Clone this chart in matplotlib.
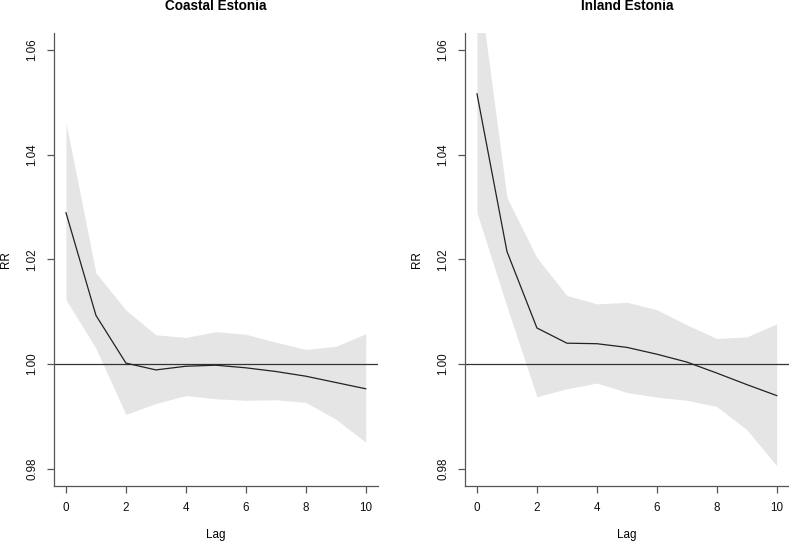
"""
Lag-response curves (RR by lag) for coastal and inland Estonia.
Saves out.png.
"""

import matplotlib.pyplot as plt
import matplotlib as mpl

mpl.rcParams["font.family"] = ["Liberation Sans", "DejaVu Sans"]

lags = [0, 1, 2, 3, 4, 5, 6, 7, 8, 9, 10]

coastal_rr = [1.0289, 1.0093, 1.0002, 0.9989, 0.9996, 0.9998, 0.9993, 0.9986, 0.9977, 0.9965, 0.9953]
coastal_hi = [1.0461, 1.0174, 1.0103, 1.0056, 1.0051, 1.0062, 1.0057, 1.0042, 1.0028, 1.0034, 1.0058]
coastal_lo = [1.0123, 1.0030, 0.9904, 0.9925, 0.9940, 0.9934, 0.9931, 0.9932, 0.9927, 0.9895, 0.9851]

inland_rr = [1.0516, 1.0215, 1.0069, 1.0040, 1.0039, 1.0032, 1.0019, 1.0004, 0.9983, 0.9961, 0.9940]
inland_hi = [1.0750, 1.0318, 1.0203, 1.0131, 1.0115, 1.0118, 1.0104, 1.0075, 1.0049, 1.0052, 1.0077]
inland_lo = [1.0289, 1.0110, 0.9938, 0.9953, 0.9964, 0.9946, 0.9937, 0.9931, 0.9919, 0.9875, 0.9806]

panels = [
    ("Coastal Estonia", coastal_rr, coastal_lo, coastal_hi),
    ("Inland Estonia", inland_rr, inland_lo, inland_hi),
]

W, H = 789, 542
fig = plt.figure(figsize=(W / 100, H / 100), dpi=100)

ax_w, ax_h = 323.7, 452.7
ax_bottom = H - 485.7
lefts = [54, 465]

axis_col = "#555555"
fs = 8.4

for left, (title, rr, lo, hi) in zip(lefts, panels):
    ax = fig.add_axes([left / W, ax_bottom / H, ax_w / W, ax_h / H])
    ax.fill_between(lags, lo, hi, color="#e5e5e5", linewidth=0)
    ax.axhline(1.0, color="#333333", lw=0.9)
    ax.plot(lags, rr, color="#222222", lw=0.9)

    # R-style 4% padding around xlim (0,10), ylim (0.98,1.06)
    ax.set_xlim(-0.4, 10.4)
    ax.set_ylim(0.9768, 1.0632)

    ax.set_xticks([0, 2, 4, 6, 8, 10])
    ax.set_yticks([0.98, 1.00, 1.02, 1.04, 1.06])
    ax.set_yticklabels(["0.98", "1.00", "1.02", "1.04", "1.06"])
    for lbl in ax.get_yticklabels():
        lbl.set_rotation(90)
        lbl.set_va("center")

    for side in ("top", "right"):
        ax.spines[side].set_visible(False)
    for side in ("left", "bottom"):
        ax.spines[side].set_color(axis_col)
        ax.spines[side].set_linewidth(0.9)
    ax.tick_params(direction="out", length=5, width=0.9, color=axis_col,
                   labelsize=fs, pad=6.5, labelcolor="#111111")

    ax.set_xlabel("Lag", fontsize=fs, va="center")
    ax.xaxis.set_label_coords(0.5, -(535 - 485.7) / ax_h)
    ax.set_ylabel("RR", fontsize=fs, va="center")
    ax.yaxis.set_label_coords(-48 / ax_w, 0.5)

    fig.text((left + ax_w / 2) / W, 1 - 6.5 / H, title, ha="center", va="center",
             fontsize=9.8, fontweight="bold")

fig.savefig("out.png", dpi=100)
